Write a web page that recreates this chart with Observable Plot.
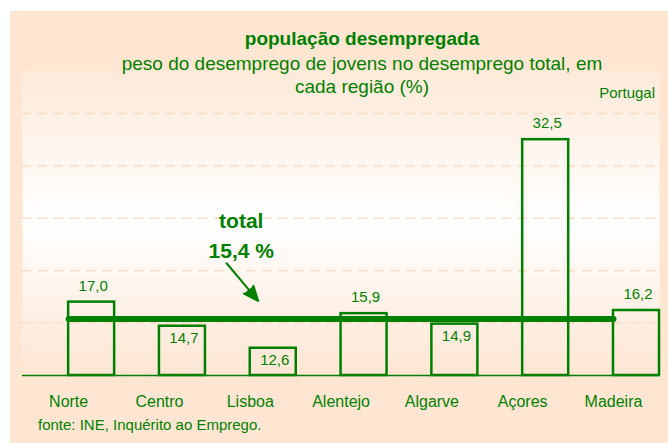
<!DOCTYPE html>
<html>
<head>
<meta charset="utf-8">
<script src="https://cdn.jsdelivr.net/npm/d3@7"></script>
<script src="https://cdn.jsdelivr.net/npm/@observablehq/plot@0.6"></script>
<style>
  html, body { margin: 0; padding: 0; background: #ffffff; }
  #wrap { position: relative; width: 668px; height: 443px; overflow: hidden;
          font-family: "Liberation Sans", Arial, sans-serif; color: #008000; }
  #panel { position: absolute; left: 10px; top: 11px; right: 0; bottom: 0; background: #fee6d3; }
  #chart { position: absolute; left: 10px; top: 11px; }
  .t { position: absolute; white-space: nowrap; line-height: 23px; }
  .c { left: 362px; transform: translateX(-50%); text-align: center; }
  #title { top: 27px; font-weight: bold; font-size: 19px; }
  #subtitle { top: 52px; font-size: 19px; }
  #country { right: 13px; top: 81px; font-size: 15px; }
  #source { left: 38px; top: 413px; font-size: 15px; }
</style>
</head>
<body>
<div id="wrap">
  <div id="panel"></div>
  <div id="chart"></div>
  <div class="t c" id="title">população desempregada</div>
  <div class="t c" id="subtitle">peso do desemprego de jovens no desemprego total, em<br>cada região (%)</div>
  <div class="t" id="country">Portugal</div>
  <div class="t" id="source">fonte: INE, Inquérito ao Emprego.</div>
</div>
<script>
// ---- data ----
const regions = ["Norte", "Centro", "Lisboa", "Alentejo", "Algarve", "Açores", "Madeira"];
const values = [17.0, 14.7, 12.6, 15.9, 14.9, 32.5, 16.2];
const total = 15.4;
const yMin = 10;
const yMax = 39.1;
const gridTicks = [15, 20, 25, 30, 35];
const totalLabel = "total";

// ---- build ----
const data = regions.map((r, i) => ({region: r, value: values[i]}));
const fmt = v => v.toFixed(1).replace(".", ",");
const green = "#008000";

const plot = Plot.plot({
  width: 658,
  height: 432,
  marginLeft: 12,
  marginRight: 9,
  marginTop: 59,
  marginBottom: 68,
  style: {background: "transparent", fontFamily: "'Liberation Sans', Arial, sans-serif", color: green, overflow: "visible"},
  x: {domain: regions, paddingInner: 0.4934, paddingOuter: 0.254, align: 1, round: false, label: null},
  y: {domain: [yMin, yMax], axis: null},
  marks: [
    Plot.frame({fill: "url(#plotBg)", stroke: "none"}),
    Plot.ruleY(gridTicks, {stroke: "#fbdcc0", strokeWidth: 1.5, strokeDasharray: "9,7"}),
    Plot.barY(data, {x: "region", y1: yMin, y2: "value", fill: "none", stroke: green, strokeWidth: 2.5}),
    Plot.ruleY([yMin], {stroke: green, strokeWidth: 1.5}),
    Plot.line(regions, {x: d => d, y: () => total, dx: -23, stroke: green, strokeWidth: 6, strokeLinecap: "round"}),
    Plot.text(data.filter(d => d.value > total), {x: "region", y: "value", text: d => fmt(d.value), dx: 1.5, dy: -16, fontSize: 15, fill: green}),
    Plot.text(data.filter(d => d.value <= total), {x: "region", y: "value", text: d => fmt(d.value), dx: 1.5, dy: 12, fontSize: 15, fill: green}),
    Plot.text([total], {x: () => "Lisboa", y: d => d, text: d => totalLabel + "\n" + fmt(d) + " %", dx: -32, dy: -86, fontWeight: "bold", fontSize: 21, lineHeight: 1.43, fill: green}),
    Plot.arrow([total], {x1: () => "Centro", y1: () => 25.74, x2: () => "Lisboa", y2: d => d, insetStart: 68.8, insetEnd: 23.4, stroke: green, fill: green, strokeWidth: 2, headLength: 12, headAngle: 45}),
    Plot.axisX({tickSize: 0, tickPadding: 20, dx: -23, fontSize: 16, fill: green, label: null})
  ]
});

const ns = "http://www.w3.org/2000/svg";
const defs = document.createElementNS(ns, "defs");
defs.innerHTML = '<linearGradient id="plotBg" x1="0" y1="0" x2="0" y2="1">' +
  '<stop offset="0" stop-color="#feead9"/><stop offset="0.5" stop-color="#ffffff"/>' +
  '<stop offset="1" stop-color="#fee6d3"/></linearGradient>';
plot.insertBefore(defs, plot.firstChild);
document.getElementById("chart").appendChild(plot);
</script>
</body>
</html>
